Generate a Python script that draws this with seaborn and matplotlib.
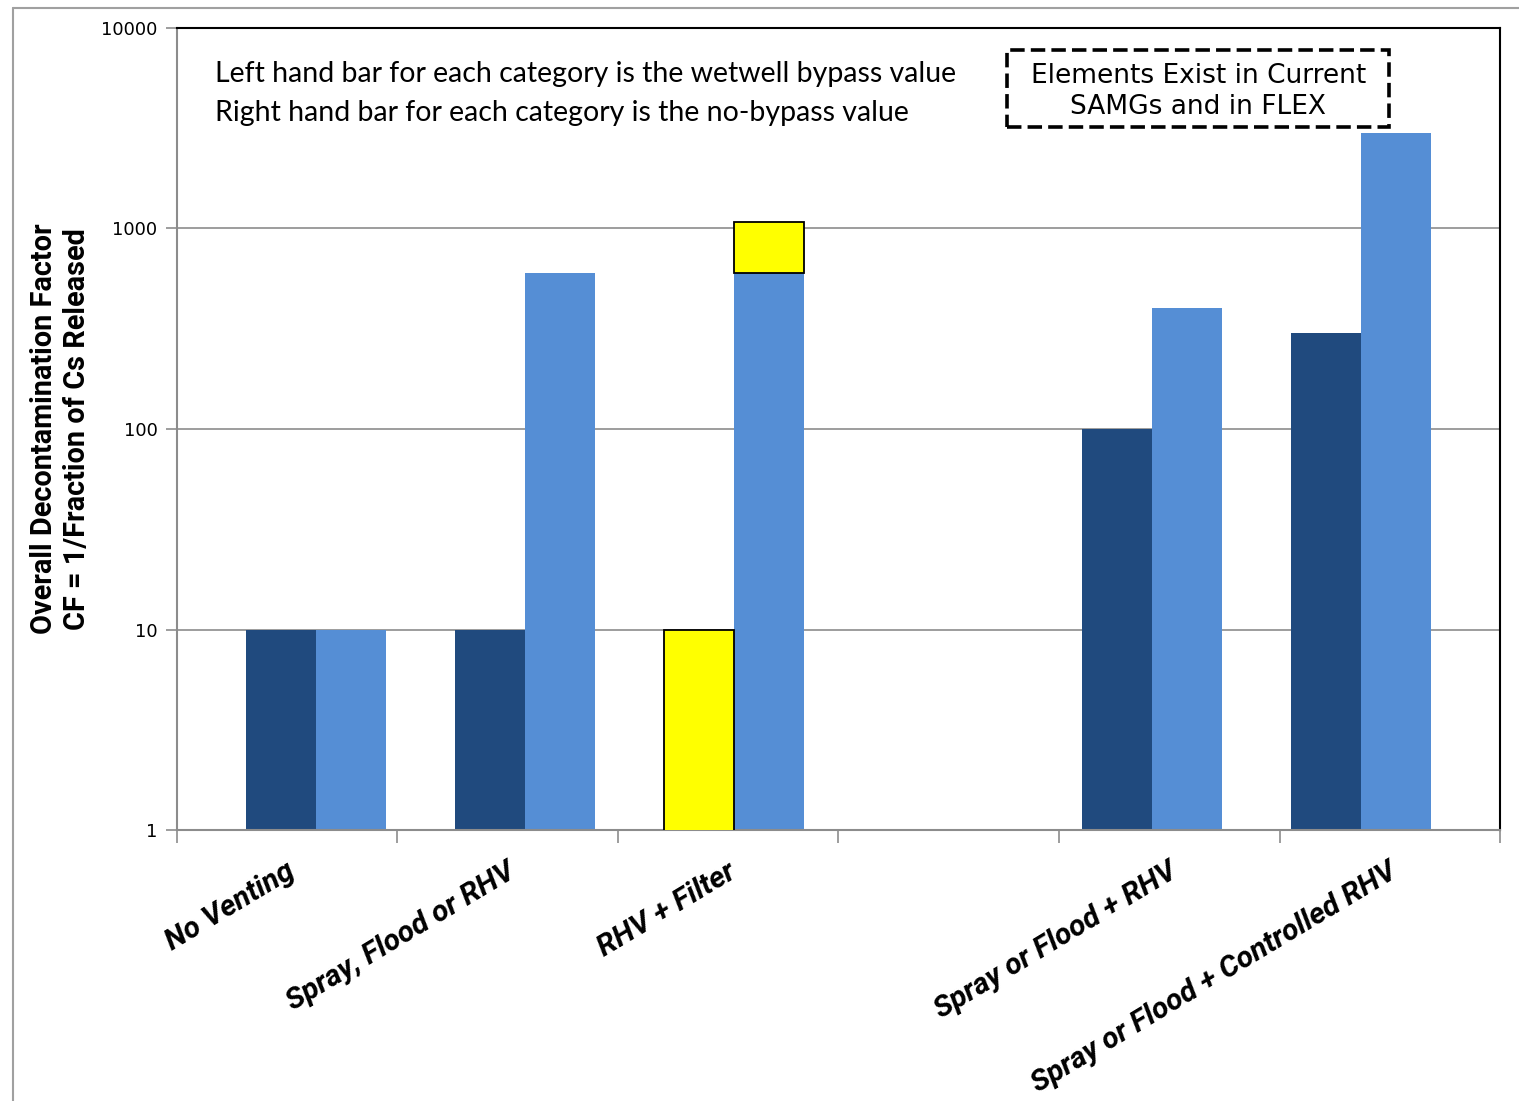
import numpy as np
import pandas as pd
import matplotlib
matplotlib.use("Agg")
import matplotlib.pyplot as plt
import seaborn as sns
from matplotlib.patches import Rectangle
from matplotlib.ticker import FixedLocator, NullFormatter, NullLocator

# chart values
categories = ["No Venting", "Spray, Flood or RHV", "RHV + Filter", "",
              "Spray or Flood + RHV", "Spray or Flood + Controlled RHV"]
bypass = [10, 10, 10, np.nan, 100, 300]
no_bypass = [10, 600, 600, np.nan, 400, 3000]
filter_top = 1080          # yellow extension on the RHV + Filter no-bypass bar
y_ticks = [1, 10, 100, 1000, 10000]

data = pd.DataFrame({
    "Category": categories * 2,
    "Case": ["bypass"] * len(categories) + ["no-bypass"] * len(categories),
    "CF": bypass + no_bypass,
})

sns.set_style("white")
plt.rcParams["font.family"] = ["DejaVu Sans"]
plt.rcParams["text.color"] = "black"
plt.rcParams["axes.labelcolor"] = "black"
plt.rcParams["ytick.labelcolor"] = "black"
calibri_like = ["Lato", "DejaVu Sans"]
bold_font = ["Roboto", "Noto Sans", "DejaVu Sans"]

fig = plt.figure(figsize=(15.19, 11.01), dpi=100)
ax = fig.add_axes([0.1165, 0.2461, 0.8710, 0.7285])

bar_w = 0.67
sns.barplot(data=data, x="Category", y="CF", hue="Case", order=categories,
            hue_order=["bypass", "no-bypass"],
            palette=["#204A7E", "#558ED5"], width=bar_w, saturation=1,
            linewidth=0, legend=False, ax=ax, log_scale=(False, True))

# left bar of RHV + Filter is yellow, plus a yellow filter segment on top of the right bar
idx = categories.index("RHV + Filter")
for p in ax.patches:
    cx = p.get_x() + p.get_width() / 2
    if abs(cx - (idx - bar_w / 4)) < 0.05:
        p.set_facecolor("#FFFF00")
        p.set_edgecolor("black")
        p.set_linewidth(1.3)
        p.set_zorder(3)
ax.bar(idx + bar_w / 4, filter_top - no_bypass[idx], bottom=no_bypass[idx],
       width=bar_w / 2, color="#FFFF00", edgecolor="black", linewidth=1.3, zorder=3)

ax.set_yscale("log")
ax.set_ylim(1, 10000)
x_lo, x_hi = -0.665, 5.665
ax.set_xlim(x_lo, x_hi)
ax.yaxis.set_major_locator(FixedLocator(y_ticks))
ax.yaxis.set_minor_locator(NullLocator())
ax.set_yticklabels([str(t) for t in y_ticks], fontsize=13)
ax.grid(axis="y", color="#8C8C8C", linewidth=1.2)
ax.set_axisbelow(True)
ax.tick_params(axis="y", which="major", direction="out", length=8, width=1.2,
               color="#8C8C8C", pad=6, left=True)

# category slots on the axis (ticks between slots, labels at slot centres)
slot = (x_hi - x_lo) / len(categories)
ax.xaxis.set_major_locator(NullLocator())
ax.xaxis.set_minor_locator(FixedLocator([x_lo + k * slot for k in range(len(categories) + 1)]))
ax.xaxis.set_minor_formatter(NullFormatter())
ax.tick_params(axis="x", which="minor", direction="out", length=9, width=1.2,
               color="#8C8C8C", bottom=True)
for i, name in enumerate(categories):
    if name:
        ax.text(x_lo + (i + 0.5) * slot - 0.01, -0.034, name, rotation=31,
                ha="right", va="top", fontsize=21.5, fontweight="bold",
                fontstyle="italic", family=bold_font, rotation_mode="anchor",
                transform=ax.get_xaxis_transform())

ax.set_xlabel("")
ax.set_ylabel("Overall Decontamination Factor\nCF = 1/Fraction of Cs Released",
              fontsize=20.8, fontweight="bold", family=bold_font,
              labelpad=7, linespacing=1.25)

for side in ["top", "right"]:
    ax.spines[side].set_color("black")
    ax.spines[side].set_linewidth(1.5)
for side in ["left", "bottom"]:
    ax.spines[side].set_color("#8C8C8C")
    ax.spines[side].set_linewidth(1.5)
    ax.spines[side].set_visible(True)

ax.text(0.029, 0.942, "Left hand bar for each category is the wetwell bypass value",
        transform=ax.transAxes, fontsize=20.5, family=calibri_like, va="center")
ax.text(0.029, 0.8945, "Right hand bar for each category is the no-bypass value",
        transform=ax.transAxes, fontsize=20.5, family=calibri_like, va="center")

ax.add_patch(Rectangle((0.6274, 0.8766), 0.2887, 0.0960, transform=ax.transAxes,
                       facecolor="white", edgecolor="black", linewidth=2.6,
                       linestyle=(0, (4, 1.7)), zorder=4))
ax.text(0.772, 0.921, "Elements Exist in Current\nSAMGs and in FLEX",
        transform=ax.transAxes, fontsize=19, ha="center", va="center",
        linespacing=1.25, zorder=5)

# chart area border (left and top)
fig.add_artist(plt.Line2D([13 / 1519, 13 / 1519], [0, 1 - 8 / 1101],
                          transform=fig.transFigure, color="#A0A0A0", linewidth=1.5))
fig.add_artist(plt.Line2D([13 / 1519, 1], [1 - 8 / 1101, 1 - 8 / 1101],
                          transform=fig.transFigure, color="#A0A0A0", linewidth=1.5))

fig.savefig("out.png", dpi=100)
